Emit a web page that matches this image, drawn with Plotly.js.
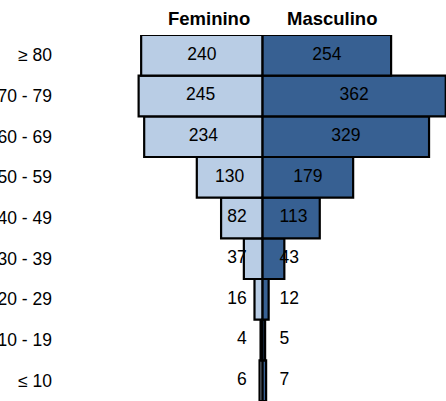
<!DOCTYPE html>
<html>
<head>
<meta charset="utf-8">
<script src="https://cdn.plot.ly/plotly-3.0.1.min.js"></script>
<style>
  html, body { margin: 0; padding: 0; background: #fff; }
  #chart { width: 446px; height: 401px; }
</style>
</head>
<body>
<div id="chart"></div>
<script>
// age groups, bottom to top
const ageGroups = ['≤ 10', '10 - 19', '20 - 29', '30 - 39', '40 - 49', '50 - 59', '60 - 69', '70 - 79', '≥ 80'];
const feminino  = [6, 4, 16, 37, 82, 130, 234, 245, 240];
const masculino = [7, 5, 12, 43, 113, 179, 329, 362, 254];

const C = { fem: '#b9cde5', masc: '#376092', line: '#000000' };
const FONT = 'Liberation Sans, Arial, sans-serif';
const FS = 17.5;
const PX_PER_UNIT = 0.507;

// label goes in the middle of the bar, unless the bar is too short for it
const halfText = v => String(v).length * 0.556 * FS / 2 / PX_PER_UNIT;
const FEM_EDGE = 31.5, MASC_EDGE = 33.5;
const femCentered  = feminino.map(v => v / 2 - halfText(v) >= FEM_EDGE);
const mascCentered = masculino.map(v => v / 2 - halfText(v) >= MASC_EDGE);

const barTrace = (vals, color) => ({
  type: 'bar', orientation: 'h', y: ageGroups, x: vals,
  marker: { color: color, line: { color: C.line, width: 2.2 } },
  hoverinfo: 'skip', showlegend: false
});

const textTrace = (vals, centered, sign, edge) => ({
  type: 'scatter', mode: 'text', y: ageGroups,
  x: vals.map((v, i) => centered[i] ? sign * v / 2 : sign * edge),
  text: vals.map(String),
  textposition: centered.map(c => c ? 'middle center' : (sign < 0 ? 'middle left' : 'middle right')),
  textfont: { family: FONT, size: FS, color: '#000' },
  marker: { size: 0 },
  hoverinfo: 'skip', showlegend: false
});

Plotly.newPlot('chart', [
  barTrace(feminino.map(v => -v), C.fem),
  barTrace(masculino, C.masc),
  textTrace(feminino, femCentered, -1, FEM_EDGE),
  textTrace(masculino, mascCentered, 1, MASC_EDGE)
], {
  width: 446, height: 401,
  margin: { l: 56, r: 0, t: 35, b: 0 },
  paper_bgcolor: '#fff', plot_bgcolor: '#fff',
  font: { family: FONT, size: FS, color: '#000' },
  barmode: 'overlay', bargap: 0,
  xaxis: { range: [-(263 - 56) / PX_PER_UNIT, 362.5], visible: false, fixedrange: true },
  yaxis: {
    categoryorder: 'array', categoryarray: ageGroups, range: [-0.5, 8.5],
    showgrid: false, zeroline: false, showline: false, ticks: '',
    ticklabelstandoff: 3,
    tickfont: { family: FONT, size: FS, color: '#000' }, fixedrange: true
  },
  annotations: [
    { text: '<b>Feminino</b>', x: -106, xref: 'x', y: 1, yref: 'paper', yanchor: 'bottom', yshift: 4, showarrow: false, font: { family: FONT, size: 18.5 } },
    { text: '<b>Masculino</b>', x: 138, xref: 'x', y: 1, yref: 'paper', yanchor: 'bottom', yshift: 4, showarrow: false, font: { family: FONT, size: 18.5 } }
  ]
}, { displayModeBar: false, staticPlot: true });
</script>
</body>
</html>
